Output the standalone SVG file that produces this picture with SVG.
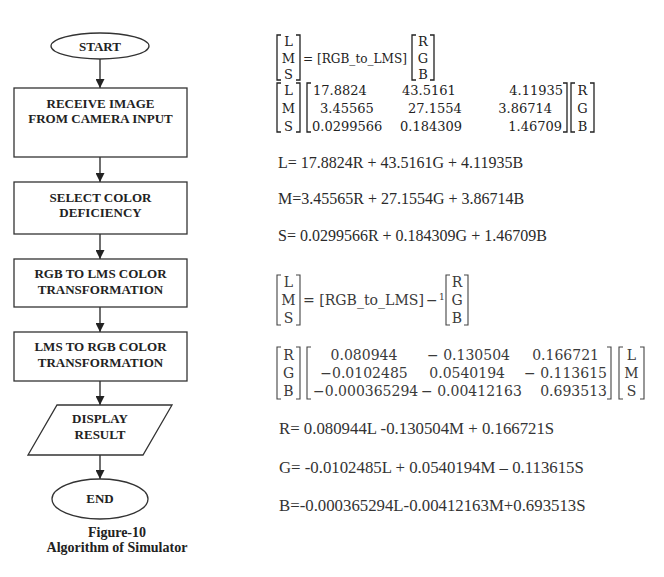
<svg xmlns="http://www.w3.org/2000/svg" width="664" height="577" viewBox="0 0 664 577">
<defs>
<style>
.shape{fill:#fff;stroke:#333;stroke-width:1.3}
.fc{font-family:"Liberation Serif","Times New Roman",serif;font-weight:bold;font-size:13px;fill:#222;text-anchor:middle}
.cap{font-family:"Liberation Serif","Times New Roman",serif;font-weight:bold;font-size:14px;fill:#222;text-anchor:middle}
.conn{stroke:#222;stroke-width:1.3;fill:none}
.eq{font-family:"Liberation Serif","Times New Roman",serif;font-size:16px;fill:#2a2a2a}
.eq2{font-family:"Liberation Serif","Times New Roman",serif;font-size:16.8px;fill:#333}
.m1{font-family:"DejaVu Serif","Liberation Serif",serif;font-size:13px;fill:#222}
.m2{font-family:"DejaVu Serif","Liberation Serif",serif;font-size:14px;fill:#3a3a3a}
.mc{text-anchor:middle}
.me{text-anchor:end}
.br1{fill:none;stroke:#222;stroke-width:1.3}
.br2{fill:none;stroke:#444;stroke-width:1.1}
</style>
<marker id="arrow" markerWidth="10" markerHeight="9" refX="9" refY="4.5" orient="auto" markerUnits="userSpaceOnUse">
<path d="M0,0 L9,4.5 L0,9 z" fill="#222"/>
</marker>
</defs>
<rect width="664" height="577" fill="#fff"/>

<g id="connectors">
<line class="conn" x1="100" y1="59" x2="100" y2="88" marker-end="url(#arrow)"/>
<line class="conn" x1="100" y1="157" x2="100" y2="182" marker-end="url(#arrow)"/>
<line class="conn" x1="100" y1="234" x2="100" y2="259" marker-end="url(#arrow)"/>
<line class="conn" x1="100" y1="307" x2="100" y2="332" marker-end="url(#arrow)"/>
<line class="conn" x1="100" y1="381" x2="100" y2="405" marker-end="url(#arrow)"/>
<line class="conn" x1="100" y1="455" x2="100" y2="479" marker-end="url(#arrow)"/>
</g>

<g id="start">
<ellipse class="shape" cx="100" cy="46" rx="49" ry="13"/>
<text class="fc" x="100" y="50.5">START</text>
</g>
<g id="receive">
<rect class="shape" x="14" y="88" width="173" height="69"/>
<text class="fc" x="100.5" y="107.5">RECEIVE IMAGE</text>
<text class="fc" x="100.5" y="122.5">FROM CAMERA INPUT</text>
</g>
<g id="select">
<rect class="shape" x="14" y="182" width="173" height="52"/>
<text class="fc" x="100.5" y="201.5">SELECT COLOR</text>
<text class="fc" x="100.5" y="216.5">DEFICIENCY</text>
</g>
<g id="rgb2lms">
<rect class="shape" x="14" y="259" width="173" height="48"/>
<text class="fc" x="100.5" y="278">RGB TO LMS COLOR</text>
<text class="fc" x="100.5" y="293.5">TRANSFORMATION</text>
</g>
<g id="lms2rgb">
<rect class="shape" x="14" y="332" width="173" height="49"/>
<text class="fc" x="100.5" y="350.5">LMS TO RGB COLOR</text>
<text class="fc" x="100.5" y="366.5">TRANSFORMATION</text>
</g>
<g id="display">
<polygon class="shape" points="57,405 172,405 143,455 28,455"/>
<text class="fc" x="100" y="422.5">DISPLAY</text>
<text class="fc" x="100" y="438.5">RESULT</text>
</g>
<g id="end">
<ellipse class="shape" cx="100" cy="499" rx="48" ry="20"/>
<text class="fc" x="100" y="503">END</text>
</g>
<g id="caption">
<text class="cap" x="117" y="536.5">Figure-10</text>
<text class="cap" x="117" y="552">Algorithm of Simulator</text>
</g>

<g id="formulas">
<path class="br1" d="M281,35 H277 V80 H281 M296,35 H300 V80 H296"/>
<text class="m1 mc" x="288.5" y="46">L</text>
<text class="m1 mc" x="288.5" y="63">M</text>
<text class="m1 mc" x="288.5" y="79">S</text>
<text class="m1" x="303" y="63" textLength="104" lengthAdjust="spacingAndGlyphs">= [RGB_to_LMS]</text>
<path class="br1" d="M416,35 H412 V80 H416 M430,35 H434 V80 H430"/>
<text class="m1 mc" x="423" y="46">R</text>
<text class="m1 mc" x="423" y="63">G</text>
<text class="m1 mc" x="423" y="79">B</text>

<path class="br1" d="M281,83 H277 V132 H281 M296,83 H300 V132 H296"/>
<text class="m1 mc" x="288.5" y="95">L</text>
<text class="m1 mc" x="288.5" y="113">M</text>
<text class="m1 mc" x="288.5" y="131">S</text>
<path class="br1" d="M311,83 H307 V132 H311 M563,83 H567 V132 H563"/>
<text class="m1" x="313" y="95">17.8824</text>
<text class="m1" x="402" y="95">43.5161</text>
<text class="m1 me" x="563" y="95">4.11935</text>
<text class="m1" x="320" y="113">3.45565</text>
<text class="m1" x="408" y="113">27.1554</text>
<text class="m1 me" x="552" y="113">3.86714</text>
<text class="m1" x="312" y="131">0.0299566</text>
<text class="m1" x="400" y="131">0.184309</text>
<text class="m1 me" x="562" y="131">1.46709</text>
<path class="br1" d="M575,83 H571 V132 H575 M590,83 H594 V132 H590"/>
<text class="m1 mc" x="582.5" y="95">R</text>
<text class="m1 mc" x="582.5" y="113">G</text>
<text class="m1 mc" x="582.5" y="131">B</text>

<text class="eq" x="278" y="168">L= 17.8824R + 43.5161G + 4.11935B</text>
<text class="eq" x="278" y="204">M=3.45565R + 27.1554G + 3.86714B</text>
<text class="eq" x="278" y="240.5">S= 0.0299566R + 0.184309G + 1.46709B</text>

<path class="br2" d="M281,275 H277 V325 H281 M296,275 H300 V325 H296"/>
<text class="m2 mc" x="288.5" y="287">L</text>
<text class="m2 mc" x="288.5" y="305">M</text>
<text class="m2 mc" x="288.5" y="323">S</text>
<text class="m2" x="303" y="305" textLength="121" lengthAdjust="spacingAndGlyphs">= [RGB_to_LMS]</text>
<text class="m2" x="426" y="305">−</text>
<text class="m2" x="439" y="300" style="font-size:9px">1</text>
<path class="br2" d="M450,275 H446 V325 H450 M464,275 H468 V325 H464"/>
<text class="m2 mc" x="457" y="287">R</text>
<text class="m2 mc" x="457" y="305">G</text>
<text class="m2 mc" x="457" y="323">B</text>

<path class="br2" d="M281,347 H277 V399 H281 M296,347 H300 V399 H296"/>
<text class="m2 mc" x="288.5" y="360">R</text>
<text class="m2 mc" x="288.5" y="378">G</text>
<text class="m2 mc" x="288.5" y="396">B</text>
<path class="br2" d="M311,347 H307 V399 H311 M607,347 H611 V399 H607"/>
<text class="m2 mc" x="364" y="360">0.080944</text>
<text class="m2" x="427" y="360">− 0.130504</text>
<text class="m2 me" x="599" y="360">0.166721</text>
<text class="m2 mc" x="364" y="378">−0.0102485</text>
<text class="m2 me" x="505" y="378">0.0540194</text>
<text class="m2 me" x="607" y="378">− 0.113615</text>
<text class="m2" x="313" y="396">−0.000365294</text>
<text class="m2" x="421" y="396">− 0.00412163</text>
<text class="m2 me" x="607" y="396">0.693513</text>
<path class="br2" d="M623,347 H619 V399 H623 M640,347 H644 V399 H640"/>
<text class="m2 mc" x="631.5" y="360">L</text>
<text class="m2 mc" x="631.5" y="378">M</text>
<text class="m2 mc" x="631.5" y="396">S</text>

<text class="eq2" x="279" y="433.5">R= 0.080944L -0.130504M + 0.166721S</text>
<text class="eq2" x="279" y="472.5">G= -0.0102485L + 0.0540194M – 0.113615S</text>
<text class="eq2" x="279" y="510.5">B=-0.000365294L-0.00412163M+0.693513S</text>
</g>
</svg>
